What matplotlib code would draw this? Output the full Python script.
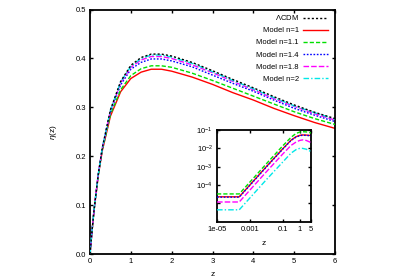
import numpy as np
import matplotlib
matplotlib.use("Agg")
from matplotlib import pyplot as plt

plt.rcParams['font.family'] = ['Liberation Sans', 'DejaVu Sans']
plt.rcParams['mathtext.fontset'] = 'custom'
plt.rcParams['mathtext.rm'] = 'Liberation Sans'
plt.rcParams['mathtext.it'] = 'Liberation Sans:italic'

# main panel: eta(z)
z = [0, 0.05, 0.1, 0.2, 0.3, 0.5, 0.75, 1.0, 1.25, 1.5, 1.75, 2.0, 2.5, 3.0, 3.5, 4.0, 4.5, 5.0, 5.5, 6.0]
eta_lcdm = [0, 0.048, 0.091, 0.162, 0.217, 0.295, 0.353, 0.386, 0.402, 0.409, 0.409, 0.405, 0.392, 0.375, 0.357, 0.340, 0.322, 0.305, 0.290, 0.277]
eta_n1 = [0, 0.048, 0.090, 0.159, 0.211, 0.282, 0.332, 0.359, 0.372, 0.378, 0.378, 0.374, 0.362, 0.347, 0.330, 0.315, 0.298, 0.283, 0.269, 0.257]
eta_n11 = [0, 0.048, 0.090, 0.159, 0.212, 0.285, 0.336, 0.365, 0.379, 0.385, 0.385, 0.382, 0.370, 0.355, 0.339, 0.323, 0.307, 0.291, 0.277, 0.265]
eta_n14 = [0, 0.048, 0.091, 0.161, 0.215, 0.291, 0.346, 0.378, 0.392, 0.399, 0.399, 0.395, 0.383, 0.366, 0.349, 0.333, 0.315, 0.298, 0.284, 0.271]
eta_n18 = [0, 0.048, 0.091, 0.162, 0.216, 0.293, 0.350, 0.382, 0.397, 0.404, 0.404, 0.400, 0.387, 0.371, 0.353, 0.336, 0.318, 0.302, 0.287, 0.274]
eta_n2 = [0, 0.048, 0.091, 0.162, 0.217, 0.294, 0.352, 0.384, 0.400, 0.407, 0.407, 0.403, 0.390, 0.373, 0.355, 0.338, 0.320, 0.303, 0.289, 0.276]

# inset (log-log)
z_in = [1e-5, 2.2e-4, 1e-3, 1e-2, 0.1, 0.3, 0.6, 1.0, 1.5, 2.5, 5.0]
in_n1 = [2.3e-5, 2.3e-5, 1.05e-4, 1.05e-3, 1.0e-2, 0.028, 0.043, 0.051, 0.054, 0.053, 0.050]
in_n11 = [3.3e-5, 3.3e-5, 1.5e-4, 1.5e-3, 1.45e-2, 0.040, 0.065, 0.077, 0.081, 0.079, 0.069]
in_n14 = [2.2e-5, 2.2e-5, 1.0e-4, 1.0e-3, 9.6e-3, 0.027, 0.041, 0.049, 0.052, 0.051, 0.048]
in_n18 = [1.2e-5, 1.2e-5, 5.5e-5, 5.5e-4, 5.2e-3, 0.0145, 0.022, 0.027, 0.029, 0.027, 0.0205]
in_n2 = [4.5e-6, 4.5e-6, 2.05e-5, 2.05e-4, 1.9e-3, 0.0055, 0.0085, 0.0100, 0.0100, 0.0090, 0.0066]

labels = [r'$\Lambda$CDM', 'Model n=1', 'Model n=1.1', 'Model n=1.4', 'Model n=1.8', 'Model n=2']
colors = ['#000000', '#ff0000', '#00e000', '#0000ff', '#ff00ff', '#00e8e8']

fs = 5.5
fig = plt.figure(figsize=(3.99, 2.79), dpi=100)
ax = fig.add_axes([0.2256, 0.0896, 0.614, 0.876])

lw = 1.0
ax.plot(z, eta_n1, color=colors[1], lw=lw, label=labels[1], zorder=2)
ax.plot(z, eta_n11, color=colors[2], lw=lw, dashes=(3, 1.5), label=labels[2], zorder=3)
ax.plot(z, eta_n14, color=colors[3], lw=lw, dashes=(1.2, 1.2), label=labels[3], zorder=4)
ax.plot(z, eta_n18, color=colors[4], lw=lw, dashes=(4, 1.5), label=labels[4], zorder=5)
ax.plot(z, eta_n2, color=colors[5], lw=lw, dashes=(4, 1.5, 1, 1.5), label=labels[5], zorder=6)
ax.plot(z, eta_lcdm, color=colors[0], lw=lw, dashes=(1.5, 1.5), label=labels[0], zorder=7)

ax.set_xlim(0, 6)
ax.set_ylim(0, 0.5)
ax.set_xticks(range(7))
ax.set_yticks(np.arange(0, 0.51, 0.1))
ax.set_yticklabels(['0.0', '0.1', '0.2', '0.3', '0.4', '0.5'])
ax.tick_params(direction='in', top=True, right=True, labelsize=fs, length=2.5, width=1.0, pad=3)
for s in ax.spines.values():
    s.set_linewidth(1.3)
ax.set_xlabel('z', fontsize=fs + 0.5, labelpad=4)
ax.set_ylabel(r'$\eta$(z)', fontsize=fs + 0.5, labelpad=12)

h, l = ax.get_legend_handles_labels()
order = [5, 0, 1, 2, 3, 4]
ax.legend([h[i] for i in order], [l[i] for i in order], loc='upper right', frameon=False,
          markerfirst=False, fontsize=fs, handlelength=3.2, handletextpad=0.6,
          labelspacing=0.62, borderaxespad=0.4, bbox_to_anchor=(0.995, 1.01))

# inset
axi = fig.add_axes([0.544, 0.205, 0.236, 0.329])
axi.plot(z_in, in_n1, color=colors[1], lw=lw, zorder=2)
axi.plot(z_in, in_n11, color=colors[2], lw=lw, dashes=(3, 1.5), zorder=3)
axi.plot(z_in, in_n14, color=colors[3], lw=lw, dashes=(1.2, 1.2), zorder=4)
axi.plot(z_in, in_n18, color=colors[4], lw=lw, dashes=(4, 1.5), zorder=5)
axi.plot(z_in, in_n2, color=colors[5], lw=lw, dashes=(4, 1.5, 1, 1.5), zorder=6)
axi.set_xscale('log')
axi.set_yscale('log')
axi.set_xlim(1e-5, 5)
axi.set_ylim(1e-6, 1e-1)
axi.set_xticks([1e-5, 1e-3, 0.1, 1, 5])
axi.set_xticklabels(['1e-05', '0.001', '0.1', '1', '5'])
axi.set_yticks([1e-5, 1e-4, 1e-3, 1e-2, 1e-1])
axi.set_yticklabels(['', r'$10^{-4}$', r'$10^{-3}$', r'$10^{-2}$', r'$10^{-1}$'])
axi.minorticks_off()
axi.tick_params(direction='in', top=True, right=True, labelsize=fs, length=2.5, width=1.0, pad=3)
for s in axi.spines.values():
    s.set_linewidth(1.3)
axi.set_xlabel('z', fontsize=fs + 0.5, labelpad=5)

fig.savefig('out.png', dpi=100)
